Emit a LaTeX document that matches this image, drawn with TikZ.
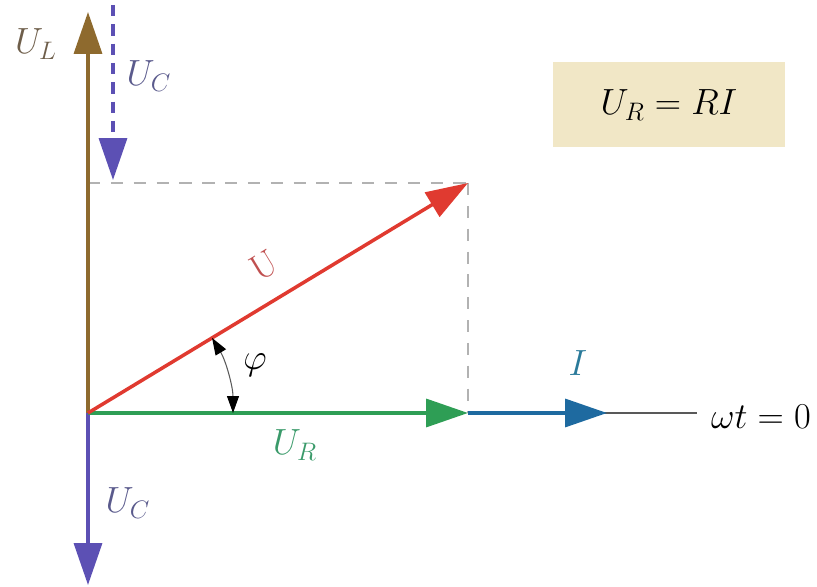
\documentclass[tikz,border=0pt]{standalone}
\usepackage{amsmath}
\usepackage{tikz}
\usepackage{xcolor}
\usetikzlibrary{arrows.meta}
\definecolor{PhBrown}{HTML}{8E6A2E}
\definecolor{PhPurple}{HTML}{5C50B4}
\definecolor{PhRed}{HTML}{E03A30}
\definecolor{PhGreen}{HTML}{2E9E55}
\definecolor{PhBlue}{HTML}{1E6AA0}
\definecolor{PhBeige}{HTML}{F1E7C6}
\definecolor{TxBrown}{HTML}{6E5E4A}
\definecolor{TxPurple}{HTML}{5A5A8C}
\definecolor{TxGreen}{HTML}{3A9A6A}
\definecolor{TxBlue}{HTML}{2A7A9A}
\definecolor{TxRed}{HTML}{C05050}

\begin{document}
\begin{tikzpicture}[
  x=0.02cm, y=0.02cm,
  every node/.style={font=\fontsize{22}{26}\selectfont},
  vec/.style={line width=2pt, -{Triangle[length=0.84cm, width=0.56cm]}},
  guide/.style={gray!60, line width=0.9pt, dash pattern=on 7pt off 6pt},
  angarr/.style={line width=0.6pt, gray!70!black,
                 {Triangle[length=0.34cm, width=0.24cm, black]}-{Triangle[length=0.34cm, width=0.24cm, black]}},
  lbl/.style={inner sep=1pt},
  formula/.style={fill=PhBeige, minimum width=4.64cm, minimum height=1.7cm},
]
\useasboundingbox (-88,-174) rectangle (729,413);

%% ── Key points ───────────────────────────────
\coordinate (O)      at (0,0);
\coordinate (ULtip)  at (0,401);
\coordinate (UCtop)  at (25,408);
\coordinate (UCtip)  at (25,233);
\coordinate (Q)      at (0,230);
\coordinate (P)      at (380,230);
\coordinate (R)      at (380,0);
\coordinate (Itip)   at (519,0);
\coordinate (axis)   at (609,0);
\coordinate (UCdown) at (0,-172);

%% ── Projection guides ────────────────────────
\draw[guide] (Q) -- (P);
\draw[guide] (P) -- (R);

%% ── Reference axis + current ─────────────────
\draw[gray!70!black, line width=0.9pt] (R) -- (axis);
\draw[vec, PhBlue] (R) -- (Itip);

%% ── Voltage phasors ──────────────────────────
\draw[vec, PhBrown]  (O) -- (ULtip);
\draw[vec, PhPurple] (O) -- (UCdown);
\draw[vec, PhPurple, dash pattern=on 6.5pt off 4.5pt] (UCtop) -- (UCtip);
\draw[vec, PhGreen]  (O) -- (R);
\draw[vec, PhRed]    (O) -- (P);

%% ── Phase angle ──────────────────────────────
\draw[angarr] (145,0) arc[start angle=0, end angle=31.2, radius=145];

%% ── Labels ───────────────────────────────────
\node[lbl, text=TxBrown]  (ULlab)  at (-52,369) {$U_L$};
\node[lbl, text=TxPurple] (UClabA) at (61,337)  {$U_C$};
\node[lbl, text=TxRed, rotate=31.2] (Ulab) at (176,148) {$\mathrm{U}$};
\node[lbl]                (philab) at (167,48)  {$\varphi$};
\node[lbl, text=TxGreen]  (URlab)  at (207,-32) {$U_R$};
\node[lbl, text=TxBlue]   (Ilab)   at (490,50)  {$I$};
\node[lbl, text=TxPurple] (UClabB) at (40,-90)  {$U_C$};
\node[lbl]                (wtlab)  at (673,-4)  {$\omega t = 0$};

%% ── Ohm's law box ────────────────────────────
\node[formula] (law) at (581,308) {$U_R = RI$};

\end{tikzpicture}
\end{document}
